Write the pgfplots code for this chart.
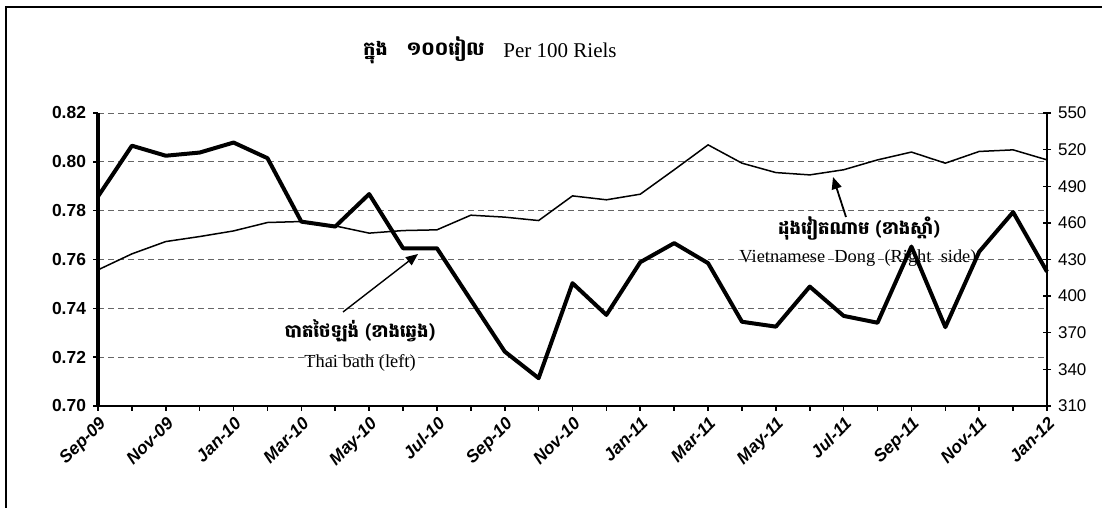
\documentclass[border=0pt]{standalone}
\usepackage{fontspec}
\setmainfont{Liberation Serif}
\setsansfont{Liberation Sans}
\newfontfamily\khmer[Script=Khmer]{Battambang}
\usepackage{pgfplots}
\pgfplotsset{compat=1.18}
\usetikzlibrary{arrows.meta}
\begin{document}
\begin{tikzpicture}
\useasboundingbox (0,0) rectangle (551pt,254pt);
% frame
\draw[line width=1pt] (3pt,0) -- (3pt,250.7pt) -- (551pt,250.7pt);
% title
\node[font=\khmer\bfseries\fontsize{9.5}{11}\selectfont] at (212pt,229pt) {ក្នុង\quad ១០០រៀល};
\node[font=\fontsize{10.5}{12}\selectfont] at (280pt,229pt) {Per 100 Riels};
% annotations text
\node[font=\khmer\bfseries\fontsize{9}{11}\selectfont] at (180pt,88.5pt) {បាតថៃឡង់ (ខាងឆ្វេង)};
\node[font=\fontsize{9.2}{11}\selectfont] at (180pt,72.5pt) {Thai bath (left)};
\node[font=\khmer\bfseries\fontsize{9}{11}\selectfont] at (429.5pt,140pt) {ដុងវៀតណាម (ខាងស្តាំ)};
\node[font=\fontsize{9.2}{11}\selectfont] at (429pt,125pt) {Vietnamese\ \ Dong\ \ (Right\ \ side)};

\begin{axis}[
  at={(49pt,51pt)}, anchor=south west,
  scale only axis, width=474.5pt, height=146.5pt,
  xmin=0, xmax=28, ymin=0.70, ymax=0.82,
  clip=false,
  axis y line*=left, axis x line*=bottom,
  y axis line style={line width=2pt},
  x axis line style={line width=0.8pt},
  ytick={0.70,0.72,0.74,0.76,0.78,0.80,0.82},
  yticklabel style={font=\sffamily\bfseries\fontsize{8.7}{10}\selectfont,
    /pgf/number format/.cd, fixed, fixed zerofill, precision=2, assume math mode=true},
  xtick={0,2,...,28},
  minor xtick={1,3,...,27},
  xticklabels={Sep-09,Nov-09,Jan-10,Mar-10,May-10,Jul-10,Sep-10,Nov-10,Jan-11,Mar-11,May-11,Jul-11,Sep-11,Nov-11,Jan-12},
  xticklabel style={font=\sffamily\bfseries\itshape\fontsize{8.7}{10}\selectfont, rotate=45, anchor=north east, inner sep=1.5pt},
  tick align=outside,
  major tick length=2.5pt, minor tick length=2.5pt,
  tick style={black, line width=0.8pt},
  ymajorgrids,
  grid style={densely dashed, gray!80!black, line width=0.35pt},
]
\addplot[black, line width=2pt, line join=round] coordinates {
(0,0.7858) (1,0.8066) (2,0.8025) (3,0.8038) (4,0.8079) (5,0.8015) (6,0.7755) (7,0.7735)
(8,0.7868) (9,0.7646) (10,0.7646) (11,0.7434) (12,0.7223) (13,0.7114) (14,0.7503)
(15,0.7373) (16,0.7589) (17,0.7667) (18,0.7585) (19,0.7345) (20,0.7325) (21,0.7489)
(22,0.7369) (23,0.7341) (24,0.7653) (25,0.7323) (26,0.7632) (27,0.7794) (28,0.7550)};
\end{axis}

\begin{axis}[
  at={(49pt,51pt)}, anchor=south west,
  scale only axis, width=474.5pt, height=146.5pt,
  xmin=0, xmax=28, ymin=310, ymax=550,
  clip=false,
  axis y line*=right, axis x line=none,
  y axis line style={line width=0.7pt},
  ytick={310,340,370,400,430,460,490,520,550},
  yticklabel style={font=\sffamily\fontsize{8.5}{10}\selectfont,
    /pgf/number format/assume math mode=true},
  tick align=center, major tick length=4pt,
  tick style={black, line width=0.7pt},
]
\addplot[black, line width=0.75pt, line join=round] coordinates {
(0,421.5) (1,434.6) (2,444.7) (3,448.8) (4,453.4) (5,460.3) (6,461.1) (7,457.5)
(8,451.6) (9,453.7) (10,454.3) (11,466.3) (12,464.7) (13,461.9) (14,482.1)
(15,478.9) (16,483.5) (17,503.5) (18,523.9) (19,508.9) (20,501.2) (21,499.3)
(22,503.5) (23,511.6) (24,518.0) (25,508.9) (26,518.5) (27,519.8) (28,511.6)};
\end{axis}
% arrows
\draw[line width=0.7pt, -{Triangle[length=6pt,width=5pt]}] (171.5pt,98pt) -- (209pt,127pt);
\draw[line width=0.9pt, -{Triangle[length=6pt,width=5pt]}] (423pt,145.5pt) -- (416.5pt,165.5pt);
\end{tikzpicture}
\end{document}
